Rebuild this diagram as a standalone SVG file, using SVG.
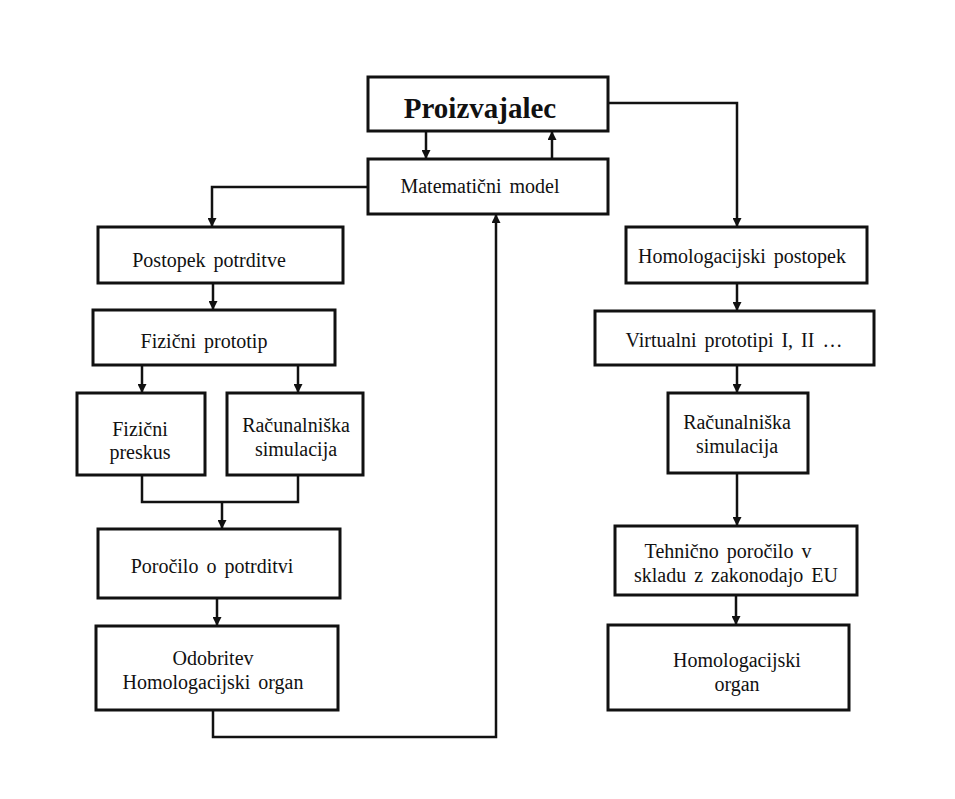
<svg xmlns="http://www.w3.org/2000/svg" width="955" height="799" viewBox="0 0 955 799">
<defs>
<marker id="ah" viewBox="0 0 10 10" refX="10" refY="5" markerWidth="9" markerHeight="9" markerUnits="userSpaceOnUse" orient="auto">
<path d="M0,0 L10,5 L0,10 z" fill="#111"/>
</marker>
<style>
rect{fill:#fff;stroke:#111;stroke-width:3}
text{font-family:"Liberation Serif","Times New Roman",serif;font-size:20px;fill:#111;text-anchor:middle;word-spacing:3px}
.big{font-size:29px;font-weight:bold;word-spacing:0}
.c{fill:none;stroke:#111;stroke-width:2.5}
</style>
</defs>
<rect x="0" y="0" width="955" height="799" style="fill:#fff;stroke:none"/>
<g id="connectors">
<path class="c" d="M426,131 V159" marker-end="url(#ah)"/>
<path class="c" d="M552,159 V131" marker-end="url(#ah)"/>
<path class="c" d="M609,103 H737 V227" marker-end="url(#ah)"/>
<path class="c" d="M368,187 H212 V227" marker-end="url(#ah)"/>
<path class="c" d="M213,283 V310" marker-end="url(#ah)"/>
<path class="c" d="M142,365 V393" marker-end="url(#ah)"/>
<path class="c" d="M298,365 V393" marker-end="url(#ah)"/>
<path class="c" d="M142,475 V502 H298 V475"/>
<path class="c" d="M222,502 V529" marker-end="url(#ah)"/>
<path class="c" d="M217,598 V626" marker-end="url(#ah)"/>
<path class="c" d="M213,710 V737 H496 V214" marker-end="url(#ah)"/>
<path class="c" d="M737,283 V311" marker-end="url(#ah)"/>
<path class="c" d="M737,365 V393" marker-end="url(#ah)"/>
<path class="c" d="M737,473 V526" marker-end="url(#ah)"/>
<path class="c" d="M736,595 V625" marker-end="url(#ah)"/>
</g>
<g id="proizvajalec"><rect x="368" y="77" width="240" height="54"/><text class="big" x="480" y="118">Proizvajalec</text></g>
<g id="matematicni-model"><rect x="368" y="159" width="240" height="55"/><text x="480" y="193">Matematični model</text></g>
<g id="postopek-potrditve"><rect x="98" y="227" width="245" height="56"/><text x="209" y="267">Postopek potrditve</text></g>
<g id="fizicni-prototip"><rect x="93" y="310" width="242" height="55"/><text x="204" y="348">Fizični prototip</text></g>
<g id="fizicni-preskus"><rect x="77" y="393" width="128" height="82"/><text x="140" y="436">Fizični</text><text x="140" y="459">preskus</text></g>
<g id="racunalniska-simulacija-l"><rect x="227" y="393" width="136" height="82"/><text x="296" y="432">Računalniška</text><text x="296" y="456">simulacija</text></g>
<g id="porocilo-o-potrditvi"><rect x="98" y="529" width="242" height="69"/><text x="212" y="573">Poročilo o potrditvi</text></g>
<g id="odobritev"><rect x="96" y="626" width="242" height="84"/><text x="213" y="665">Odobritev</text><text x="213" y="689">Homologacijski organ</text></g>
<g id="homologacijski-postopek"><rect x="626" y="227" width="241" height="56"/><text x="742" y="263">Homologacijski postopek</text></g>
<g id="virtualni-prototipi"><rect x="595" y="311" width="279" height="54"/><text x="734" y="347">Virtualni prototipi I, II …</text></g>
<g id="racunalniska-simulacija-r"><rect x="668" y="393" width="140" height="80"/><text x="737" y="429">Računalniška</text><text x="737" y="453">simulacija</text></g>
<g id="tehnicno-porocilo"><rect x="615" y="526" width="242" height="69"/><text x="728" y="558">Tehnično poročilo v</text><text x="736" y="582">skladu z zakonodajo EU</text></g>
<g id="homologacijski-organ"><rect x="608" y="625" width="241" height="85"/><text x="737" y="667">Homologacijski</text><text x="737" y="691">organ</text></g>
</svg>
